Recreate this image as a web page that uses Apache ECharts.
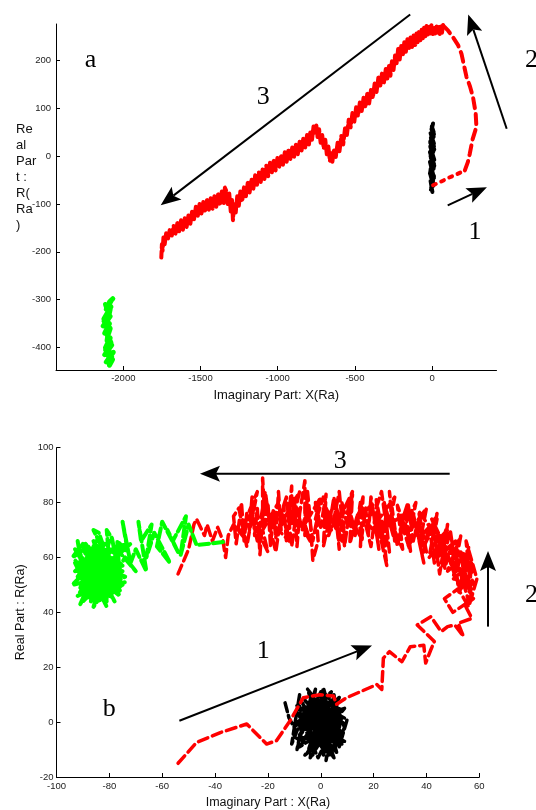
<!DOCTYPE html>
<html><head><meta charset="utf-8">
<script src="https://cdn.jsdelivr.net/npm/echarts@6/dist/echarts.min.js"></script>
<style>html,body{margin:0;padding:0;background:#fff}#c{width:536px;height:810px}</style>
</head><body><div id="c"></div>
<script>
// ---- tick labels ----
const topXTicks = [-2000, -1500, -1000, -500, 0];
const topYTicks = [-400, -300, -200, -100, 0, 100, 200];
const botXTicks = [-100, -80, -60, -40, -20, 0, 20, 40, 60];
const botYTicks = [-20, 0, 20, 40, 60, 80, 100];

// ---- panel a (top) ----
const topBlack = [[2,-75],[-10,-52],[8,-62],[-12,-32],[12,-46],[-14,-12],[10,-26],[-8,4],[14,-8],[-12,20],[8,10],[-6,36],[12,26],[-10,48],[10,40],[0,60],[6,68],[-4,56],[12,46],[-12,30],[14,14],[-10,0],[12,-16],[-14,-36],[8,-56],[-8,-70],[6,-60],[-10,-40],[14,-20],[-8,-4],[10,12],[-12,28],[8,40],[-2,62],[10,50],[-8,38],[12,20],[-14,8],[6,-12],[-10,-28],[12,-42],[-6,-66],[2,-74]];
const topRedLeg1 = [[6,-61],[60,-53],[110,-45],[160,-38],[212,-30]];
const topRedLeg2 = [[212,-30],[232,-12],[244,5],[262,35],[287,61],[282,90],[265,123],[245,146],[223,165],[206,190],[190,214],[168,232],[136,248],[104,262],[71,273]];
const topRedLeg3 = [[71,274],[64,258],[58,272],[50,255],[44,270],[36,258],[28,273],[20,256],[12,270],[4,255],[-4,274],[-12,256],[-20,270],[-28,254],[-36,272],[-44,250],[-52,268],[-60,246],[-68,264],[-76,242],[-85,260],[-94,238],[-101,256],[-110,232],[-120,252],[-130,228],[-140,248],[-150,224],[-160,244],[-170,218],[-180,238],[-190,210],[-200,230],[-210,202],[-220,224],[-230,194],[-240,210],[-250,180],[-260,198],[-270,168],[-280,190],[-290,162],[-300,182],[-312,154],[-324,174],[-336,146],[-348,164],[-360,134],[-372,152],[-384,122],[-396,138],[-408,110],[-420,130],[-432,102],[-444,122],[-456,94],[-468,112],[-480,84],[-492,102],[-504,72],[-516,90],[-528,60],[-540,76],[-552,44],[-564,58],[-576,24],[-588,42],[-600,10],[-612,28],[-624,-2],[-636,14],[-646,-12],[-654,6],[-662,-10],[-672,20],[-682,4],[-692,34],[-702,16],[-712,44],[-722,28],[-732,56],[-742,40],[-750,64],[-759,48],[-768,62],[-778,34],[-788,52],[-798,24],[-810,44],[-822,18],[-834,38],[-846,10],[-858,30],[-870,4],[-882,24],[-894,-2],[-906,18],[-918,-6],[-930,14],[-942,-12],[-954,8],[-966,-18],[-978,2],[-990,-22],[-1002,-4],[-1014,-30],[-1026,-10],[-1038,-34],[-1050,-14],[-1062,-42],[-1074,-20],[-1086,-48],[-1098,-28],[-1110,-54],[-1122,-34],[-1134,-60],[-1146,-40],[-1158,-68],[-1170,-48],[-1182,-76],[-1194,-56],[-1206,-84],[-1218,-64],[-1230,-94],[-1242,-74],[-1252,-104],[-1262,-84],[-1272,-118],[-1282,-98],[-1290,-134],[-1296,-92],[-1304,-116],[-1314,-78],[-1324,-100],[-1334,-72],[-1342,-66],[-1350,-98],[-1362,-74],[-1374,-102],[-1386,-80],[-1398,-106],[-1410,-84],[-1422,-110],[-1434,-88],[-1446,-112],[-1458,-92],[-1470,-116],[-1482,-96],[-1494,-120],[-1506,-100],[-1518,-126],[-1530,-106],[-1542,-132],[-1554,-114],[-1566,-142],[-1578,-124],[-1590,-148],[-1602,-130],[-1614,-154],[-1626,-134],[-1638,-158],[-1650,-140],[-1662,-162],[-1674,-146],[-1686,-166],[-1698,-152],[-1710,-172],[-1722,-160],[-1732,-184],[-1740,-170],[-1746,-198],[-1750,-184],[-1754,-212]];
const topGreen = [[-2068,-298],[-2090,-305],[-2075,-300],[-2110,-320],[-2080,-315],[-2125,-340],[-2085,-335],[-2130,-355],[-2090,-350],[-2120,-370],[-2095,-365],[-2105,-385],[-2085,-380],[-2115,-400],[-2075,-395],[-2120,-415],[-2065,-410],[-2110,-430],[-2070,-425],[-2090,-437],[-2075,-420],[-2115,-405],[-2080,-390],[-2100,-375],[-2085,-360],[-2125,-345],[-2095,-330],[-2115,-310],[-2085,-320],[-2105,-350],[-2100,-395],[-2095,-420]];

// ---- panel b (bottom) ----
const botBlack = [[-13.5,7],[-12,1.5],[-10,-2],[-8,10],[-11,-8],[-6,4],[-9,-10],[-4,8],[-7,-4],[-2,12],[-5,-6],[0,6],[-3,-12],[2,10],[-1,-8],[4,4],[1,-12],[6,8],[3,-6],[8,2],[5,-10],[9,-2],[6,6],[2,-14],[4,0],[-2,-9],[0,5],[-6,-2],[-3,9],[-8,-6],[-5,3],[-10,-1],[-4,-3],[-7,7],[0,-4],[-2,2],[3,-8],[5,10],[7,-6],[1,8],[-1,-2],[4,-4],[2,6],[6,-2],[0,0],[-3,-6],[3,3],[-6,0],[1,-10],[5,4],[-2,7],[10,1],[7,-9],[1,12.5],[-4,-13],[8,5],[-9,3],[2,-3],[-1,4],[4,-12],[6,0],
[-7,5],[3,-11],[-4,10],[6,-4],[-9,-6],[2,9],[-5,-11],[7,3],[-1,-13],[-8,2],[4,11],[-3,-5],[8,-8],[-6,8],[1,-2],[5,-13],[-9,6],[3,4],[-2,-10],[7,9],[-7,-3],[0,11],[6,-11],[-4,1],[9,5],[-6,-12],[2,-6],[-3,6],[5,-1],[-8,-9],[1,3],[8,-4],[-5,12],[3,-12],[-1,7],[6,2],[-7,-7],[4,8],[-3,-1],[9,-7],[0,-5]];
const botRed = [[-54,-15],[-47,-7.4],[-38,-3.8],[-28,-0.7],[-20.5,-8],[-16.7,-6.7],[-11.6,0.5],[-6.6,8.9],[-0.3,10],[4.8,9.5],[6,6.5],[9.8,8.9],[21.2,13.7],[23.1,11.9],[23.7,23.3],[26,25.7],[30.7,22],[33.9,27.5],[39,28],[39.7,21.5],[41.5,26],[43,29.4],[36.5,35.4],[41.7,38.4],[45.6,33],[48,34.8],[50.7,35.4],[54,31.2],[52,36],[57.2,37.8],[54.6,42.6],[57.8,45],[50,40],[46.8,45],[52,48.6],[56,42],[59.1,52.2],
[55,66],[57,46],[53,60],[58,56],[52,47],[56,64],[54,50],[51,62],[57,58],[50,52],[53,68],[48,55],[55,61],[47,64],[52,50],[49,70],[46,57],[51,66],[44,60],[48,72],[45,54],[43,68],[47,62],[42,74],[46,66],
[41,60],[44,76],[39,64],[42,70],[37,77],[40,62],[36,72],[39,58],[35,76],[33,64],[37,70],[32,78],[34,62],[30,74],[33,68],[29,79],[31,63],
[27,72],[26,84],[28,66],[24,80],[26,62],[23,74],[25,57],[22,70],[21,81],[24,66],[20,76],[22,63],[19,82],
[18,68],[17,78],[15,64],[16,82],[13,70],[14,76],[11,65],[12,83],[10,72],[8,80],[9,66],[6,78],[7,63],[5,82],[3,70],[4,77],[1,64],[2,83],[0,71],[-2,80],[-1,66],[-3,59],[-4,74],[-5,84],[-6,68],[-6,88],[-8,76],[-9,64],[-10,82],[-11,72],[-11,86],[-13,66],[-14,79],[-15,70],[-16,84],[-17,67],[-18,77],[-19,64],[-20,80],[-21,72],[-22,89],[-22,75],[-23,61],[-24,78],[-25,68],[-26,82],[-27,70],[-28,76],[-29,66],[-30,80],[-31,72],[-32,65],[-33,75],
[-31,78],[-28,64],[-26,75],[-24,66],[-21,84],[-19,70],[-17,62],[-15,76],[-13,82],[-11,64],[-9,78],[-7,70],[-5,80],[-3,66],[-1,76],[1,82],[3,68],[5,74],[7,84],[9,64],[11,78],[13,68],[15,80],[17,72],[19,64],[21,78],[23,84],[25,70],[27,78],[29,64],[31,74],[33,80],[35,66],[37,74],[39,62],[41,72],[43,58],[45,68],[47,56],[49,64],[51,52],[53,62],[55,48],[57,58],[56,44],[53,54],[58,50],
[54,60],[50,56],[52,66],[46,62],[48,70],[42,64],[44,74],[38,68],[40,78],[34,70],[36,80],[30,68],[32,76],[26,72],[28,82],[22,74],[24,66],[18,72],[20,80],[14,74],[16,66],[10,76],[12,84],[6,72],[8,66],[2,78],[4,70],[-2,74],[0,82],[-6,72],[-4,66],[-10,76],[-8,84],[-14,74],[-12,66],[-18,72],[-16,80],[-22,70],[-20,62],[-26,74],[-24,84],[-30,70],[-28,66],[-33,72],
[-35,68],[-36,60],[-37,66],[-39,71],[-41,66],[-43,72],[-44,68],[-47,74],[-48,72],[-50,63],[-54,54]];
const botGreen = [[-37,65.6],[-42,65],[-47,64.5],[-50,72],[-53,61],[-51,75],[-56,66],[-58,70],[-54,62],[-60,73],[-62,64],[-57,58],[-63,69],[-66,60],[-64,72],[-68,66],[-69,73],[-66,55],[-70,63],[-72,58],[-75,73],[-73,62],[-77,66],[-76,52],[-79,67],[-81,70],[-80,58],[-84,69],[-86,70],[-82,62],[-88,60],[-85,66],[-90,54],[-92,66],[-88,48],[-93,58],[-86,52],[-91,43],[-84,58],[-89,62],[-80,50],[-87,45],[-83,55],[-78,48],[-86,59],[-90,50],[-81,44],[-84,61],[-76,56],[-82,52],[-88,57],[-80,63],[-85,48],[-74,51],[-80,46],[-87,53],[-83,64],[-92,52],[-86,57],[-78,60],[-84,44],[-89,56],[-82,50],[-77,54],[-85,62],[-90,47],[-81,58],[-86,42],[-79,52],[-83,47],[-74,60],[-70,55],[-78,64],[-72,65],[-82,56],[-88,64],[-94,60],[-90,65],[-85,52],[-80,55],[-76,48],
[-84,55],[-91,60],[-78,52],[-88,47],[-80,62],[-92,55],[-75,57],[-86,64],[-83,44],[-90,52],[-77,60],[-85,50],[-93,63],[-79,47],[-87,58],[-74,53],[-89,45],[-82,65],[-91,49],[-80,56],[-86,46],[-76,63],[-92,57],[-83,51],[-78,44],[-88,62],[-81,53],[-94,50],[-85,59],[-79,49],[-90,64],[-84,47],[-77,58],[-89,54],[-82,61],[-92,46],[-80,51],[-86,66],[-75,50],[-88,52],[-83,58],[-91,43],[-79,55],[-87,61],[-81,45],[-93,59],[-84,52],[-76,46],[-89,65],[-82,48],[-85,63],[-78,54],[-90,48],[-83,62],[-87,44],[-80,59],[-92,53],[-84,64],[-77,51],[-88,56],[-81,42],[-86,54],[-79,63],[-91,51],[-83,46],[-75,55],[-89,59],[-85,49],[-80,66],[-93,55],[-82,57]];

// ---- annotations (data units of each panel) ----
const topArrows = [[[-142,296],[-1758,-103]],[[483,57],[234,296]],[[101,-103],[355,-65]]];
const topLabels = [['a',-2212,200],['3',-1094,123],['2',643,200],['1',278,-159]];
const botArrows = [[[48.8,90.5],[-45.7,90.5]],[[63.3,34.8],[63.3,62.4]],[[-53.5,0.5],[19.4,27.9]]];
const botLabels = [['3',7.4,95],['1',-21.8,25.8],['b',-80,4.7],['2',79.8,46.2]];

const sans = 'Liberation Sans, Arial, Helvetica, sans-serif';
const serif = 'Liberation Serif, Times New Roman, serif';
const axisLine = {show:true, onZero:false, lineStyle:{color:'#000', width:1}};
const lbl = {color:'#222', fontSize:9.5, fontFamily:sans, formatter:function(v){ return String(v); }};
function tick(vals){ const t = {show:true, inside:true, length:4, lineStyle:{color:'#000', width:1}}; if (vals) t.customValues = vals; return t; }
function ser(data, gi, color, width, dash, z){
  return {type:'line', xAxisIndex:gi, yAxisIndex:gi, data:data, showSymbol:false, symbol:'none', silent:true, z:z,
    lineStyle:{color:color, width:width, type:dash, cap:'round', join:'round'}};
}

const chart = echarts.init(document.getElementById('c'));
chart.setOption({
  animation:false,
  backgroundColor:'#fff',
  grid:[{left:56, top:24, width:440.5, height:346},{left:56.5, top:447.7, width:422.8, height:332.3}],
  xAxis:[
    {gridIndex:0, type:'value', min:-2436, max:417, axisLine:axisLine, splitLine:{show:false}, axisTick:tick(topXTicks),
     axisLabel:Object.assign({margin:3, customValues:topXTicks}, lbl),
     name:'Imaginary Part: X(Ra)', nameLocation:'middle', nameGap:19, nameTextStyle:{fontSize:13, color:'#111', fontFamily:sans}},
    {gridIndex:1, type:'value', min:botXTicks[0], max:botXTicks[botXTicks.length-1], interval:20, axisLine:axisLine, splitLine:{show:false}, axisTick:tick(),
     axisLabel:Object.assign({margin:4}, lbl),
     name:'Imaginary Part : X(Ra)', nameLocation:'middle', nameGap:19, nameTextStyle:{fontSize:12.5, color:'#111', fontFamily:sans}}
  ],
  yAxis:[
    {gridIndex:0, type:'value', min:-447, max:276, axisLine:axisLine, splitLine:{show:false}, axisTick:tick(topYTicks),
     axisLabel:Object.assign({margin:5, customValues:topYTicks}, lbl)},
    {gridIndex:1, type:'value', min:botYTicks[0], max:botYTicks[botYTicks.length-1], interval:20, axisLine:axisLine, splitLine:{show:false}, axisTick:tick(),
     axisLabel:Object.assign({margin:3}, lbl),
     name:'Real Part : R(Ra)', nameLocation:'middle', nameGap:12, nameRotate:90, nameTextStyle:{fontSize:12.5, color:'#111', fontFamily:sans}}
  ],
  series:[
    ser(topBlack, 0, '#000', 4, 'solid', 2),
    ser(topRedLeg1, 0, '#ff0000', 4, [3,6], 3),
    ser(topRedLeg2, 0, '#ff0000', 4, [10,6], 3),
    ser(topRedLeg3, 0, '#ff0000', 4, [12,3], 3),
    ser(topGreen, 0, '#00ff00', 5, 'solid', 4),
    ser(botBlack, 1, '#000', 3.5, [9,4], 2),
    ser(botRed, 1, '#ff0000', 3.5, [10,5], 3),
    ser(botGreen, 1, '#00ff00', 4, [10,4], 4)
  ]
});

// build annotation graphics from data coordinates
const gr = [];
function arrow(gi, a){
  const s = chart.convertToPixel({gridIndex:gi}, a[0]);
  const t = chart.convertToPixel({gridIndex:gi}, a[1]);
  const dx = t[0]-s[0], dy = t[1]-s[1], d = Math.hypot(dx,dy);
  const ux = dx/d, uy = dy/d, nx = -uy, ny = ux;
  const L = 20, W = 8, N = 4;
  const b1 = [t[0]-ux*L+nx*W, t[1]-uy*L+ny*W];
  const b2 = [t[0]-ux*L-nx*W, t[1]-uy*L-ny*W];
  const nk = [t[0]-ux*(L-N), t[1]-uy*(L-N)];
  gr.push({type:'line', shape:{x1:s[0], y1:s[1], x2:nk[0], y2:nk[1]}, style:{stroke:'#000', lineWidth:2}, z:10});
  gr.push({type:'polygon', shape:{points:[t, b1, nk, b2]}, style:{fill:'#000'}, z:10});
}
function label(gi, l){
  const p = chart.convertToPixel({gridIndex:gi}, [l[1], l[2]]);
  gr.push({type:'text', x:p[0], y:p[1], style:{text:l[0], fontSize:26, fontFamily:serif, fill:'#000', align:'center', verticalAlign:'middle'}, z:10});
}
topArrows.forEach(a => arrow(0, a));
botArrows.forEach(a => arrow(1, a));
topLabels.forEach(l => label(0, l));
botLabels.forEach(l => label(1, l));
gr.push({type:'text', left:16, top:121, style:{text:'Re\nal\nPar\nt :\nR(\nRa\n)', fontSize:13, lineHeight:16, fontFamily:sans, fill:'#111'}, z:10});
chart.setOption({graphic:gr});
</script>
</body></html>
